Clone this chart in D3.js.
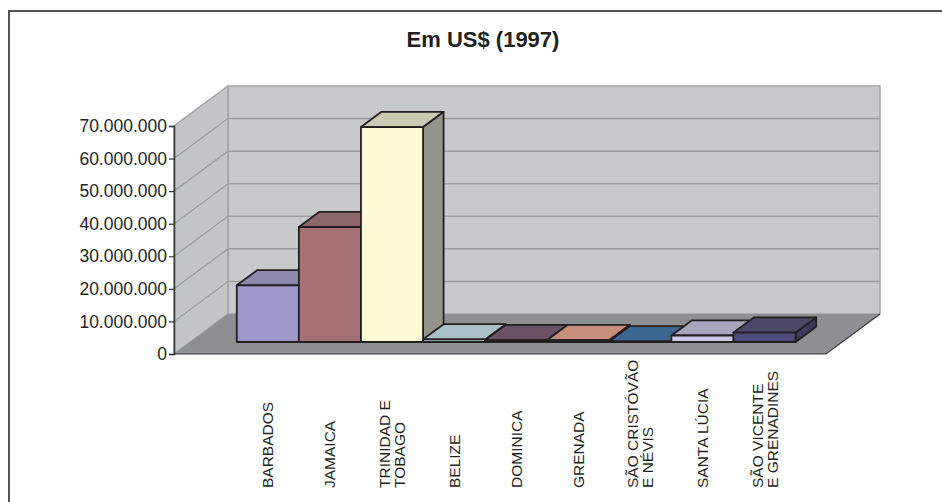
<!DOCTYPE html>
<html>
<head>
<meta charset="utf-8">
<script src="https://cdn.jsdelivr.net/npm/d3@7"></script>
<style>
  body { margin: 0; background: #fff; }
  text { font-family: "Liberation Sans", Arial, sans-serif; fill: #231f20; }
</style>
</head>
<body>
<div id="canvas"></div>
<script>
// chart data
const categories = [
    "BARBADOS", "JAMAICA", "TRINIDAD E\nTOBAGO", "BELIZE", "DOMINICA",
    "GRENADA", "SÃO CRISTÓVÃO\nE NÉVIS", "SANTA LÚCIA", "SÃO VICENTE\nE GRENADINES"
];
const values = [17400000, 35300000, 66000000, 800000, 600000, 600000, 200000, 2000000, 2900000];
const yTicks = [0, 10000000, 20000000, 30000000, 40000000, 50000000, 60000000, 70000000];
const title = "Em US$ (1997)";

// colours per bar: front, top, side
const frontColors = ["#9f99cb", "#a47275", "#fffad6", "#b4d6e4", "#5e4057", "#f08c64", "#2e4c70", "#ccc8e8", "#4f4b7a"];
const topColors   = ["#8b88ac", "#8b6769", "#cbcab2", "#a9c0c9", "#6b5264", "#c48e7b", "#3d6690", "#a8a5bc", "#4b4868"];
const sideColors  = ["#7c7a9a", "#7a5a5c", "#94948a", "#8aa0a8", "#4e3a48", "#a87464", "#2e5070", "#8c8aa0", "#3c3a58"];

const width = 942, height = 502;
const X0 = 174, X1 = 826, Y0 = 354, YTOP = 126;
const DX = 54, DY = 40;     // depth of the floor
const T0 = 0.3, T1 = 0.68;  // bar depth range

const svg = d3.select('#canvas').append("svg")
    .attr("width", width)
    .attr("height", height);

// outer frame
svg.append("rect")
    .attr("x", 9).attr("y", 11)
    .attr("width", 1000).attr("height", 600)
    .attr("fill", "none")
    .attr("stroke", "#555")
    .attr("stroke-width", 2);

svg.append("text")
    .attr("x", 483).attr("y", 47)
    .attr("text-anchor", "middle")
    .style("font-size", "22px")
    .style("font-weight", "bold")
    .text(title);

const x = d3.scaleBand()
    .domain(categories)
    .range([X0, X1])
    .paddingInner(0)
    .paddingOuter(0.75);

const y = d3.scaleLinear()
    .domain([0, 70000000])
    .range([Y0, YTOP]);

const P = (px, v, t) => [px + t * DX, y(v) - t * DY];
const poly = pts => "M" + pts.map(p => p.join(",")).join("L") + "Z";
const vMax = y.domain()[1];

const walls = svg.append("g");
// back wall
walls.append("path")
    .attr("d", poly([P(X0, vMax, 1), P(X1, vMax, 1), P(X1, 0, 1), P(X0, 0, 1)]))
    .attr("fill", "#c8c9cb")
    .attr("stroke", "#a3a4a7")
    .attr("stroke-width", 1.5);
// side wall
walls.append("path")
    .attr("d", poly([P(X0, 0, 0), P(X0, vMax, 0), P(X0, vMax, 1), P(X0, 0, 1)]))
    .attr("fill", "#c4c5c7")
    .attr("stroke", "#a3a4a7")
    .attr("stroke-width", 1.5);

// gridlines
const grid = yTicks.filter(v => v > 0 && v < vMax);
walls.selectAll(".grid-side")
    .data(grid)
    .enter().append("path")
    .attr("d", v => "M" + P(X0, v, 0) + "L" + P(X0, v, 1))
    .attr("stroke", "#9c9da1")
    .attr("stroke-width", 1.3);
walls.selectAll(".grid-back")
    .data(grid)
    .enter().append("path")
    .attr("d", v => "M" + P(X0, v, 1) + "L" + P(X1, v, 1))
    .attr("stroke", "#9c9da1")
    .attr("stroke-width", 1.5);

// floor
walls.append("path")
    .attr("d", poly([P(X0, 0, 0), P(X1, 0, 0), P(X1, 0, 1), P(X0, 0, 1)]))
    .attr("fill", "#8e8f93");
walls.append("path")
    .attr("d", "M" + P(X0, 0, 0) + "L" + P(X1, 0, 0) + "L" + P(X1, 0, 1))
    .attr("fill", "none")
    .attr("stroke", "#3a3a3c")
    .attr("stroke-width", 1.2);

// bars
const bars = svg.append("g")
    .attr("stroke", "#231f20")
    .attr("stroke-width", 1.8)
    .attr("stroke-linejoin", "round");

categories.forEach((c, i) => {
    const xl = x(c), xr = x(c) + x.bandwidth(), v = values[i];
    const g = bars.append("g");
    g.append("path")
        .attr("d", poly([P(xr, 0, T0), P(xr, v, T0), P(xr, v, T1), P(xr, 0, T1)]))
        .attr("fill", sideColors[i]);
    g.append("path")
        .attr("d", poly([P(xl, v, T0), P(xr, v, T0), P(xr, v, T1), P(xl, v, T1)]))
        .attr("fill", topColors[i]);
    g.append("path")
        .attr("d", poly([P(xl, 0, T0), P(xr, 0, T0), P(xr, v, T0), P(xl, v, T0)]))
        .attr("fill", frontColors[i]);
});

// y axis
const fmt = d3.formatLocale({ decimal: ",", thousands: ".", grouping: [3], currency: ["", ""] }).format(",d");
const yAxisCall = d3.axisLeft(y)
    .tickValues(yTicks)
    .tickSize(5)
    .tickPadding(2)
    .tickFormat(fmt);
const yAxis = svg.append("g")
    .attr("class", "y axis")
    .attr("transform", `translate(${X0}, 0)`)
    .call(yAxisCall);
yAxis.select(".domain").attr("stroke", "#333").attr("stroke-width", 1.5);
yAxis.selectAll(".tick line").attr("stroke", "#333").attr("stroke-width", 1.2);
yAxis.selectAll("text")
    .style("font-size", "17.5px")
    .style("font-family", "'Liberation Sans', Arial, sans-serif")
    .attr("fill", "#231f20");

// category labels
const lineH = 15;
const labels = svg.append("g").selectAll("text")
    .data(categories)
    .enter().append("text")
    .attr("transform", c => `translate(${x(c) + T0 * DX + x.bandwidth() / 2}, 488) rotate(-90)`)
    .style("font-size", "15.5px");
labels.each(function(c) {
    const lines = c.split("\n");
    const t = d3.select(this);
    lines.forEach((ln, k) => {
        t.append("tspan")
            .attr("x", 0)
            .attr("y", (k - (lines.length - 1) / 2) * lineH)
            .attr("dy", "0.35em")
            .text(ln);
    });
});
</script>
</body>
</html>
